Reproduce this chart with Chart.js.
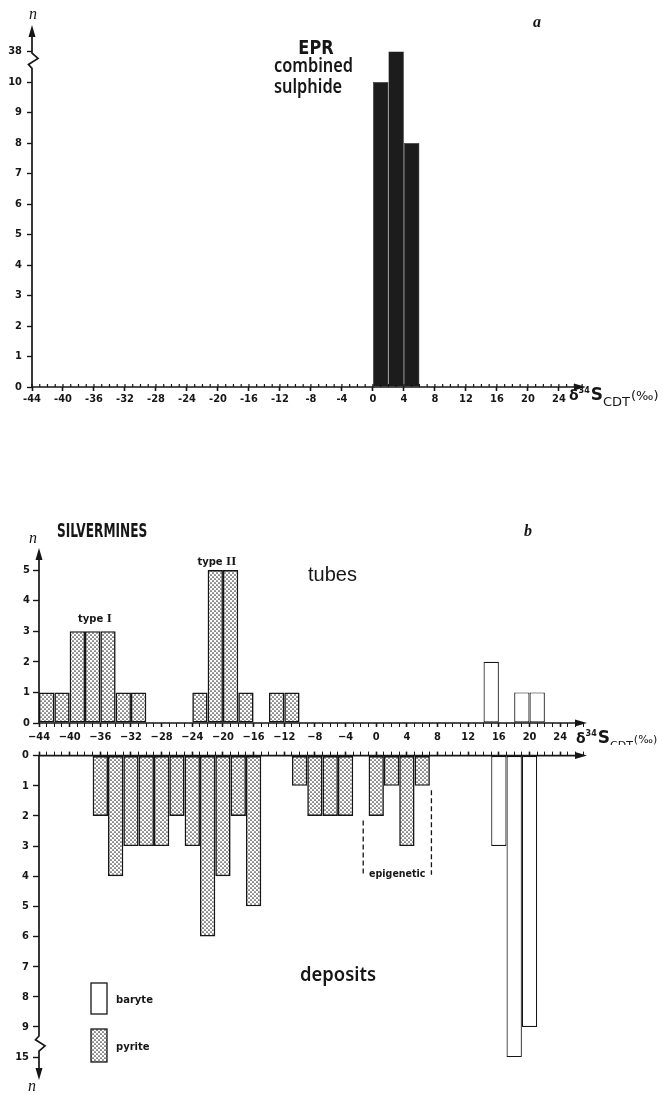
<!DOCTYPE html>
<html lang="en">
<head>
<meta charset="utf-8">
<title>δ34S histograms — EPR and Silvermines</title>
<script src="https://cdn.jsdelivr.net/npm/chart.js@4.4.1/dist/chart.umd.min.js"></script>
<style>
  html, body { margin: 0; padding: 0; background: #fff; }
  body { position: relative; width: 663px; height: 1093px; overflow: hidden; }
  canvas { position: absolute; left: 0; }
  #chart-epr { top: 0; }
  #chart-tubes { top: 520px; }
  #chart-deposits { top: 745px; }
</style>
</head>
<body>
<canvas id="chart-epr" width="663" height="420"></canvas>
<canvas id="chart-tubes" width="663" height="225"></canvas>
<canvas id="chart-deposits" width="663" height="348"></canvas>
<script>
/**
 * Two δ34S histograms: (a) EPR combined sulphide, (b) Silvermines tubes / deposits.
 * Bins are 2 ‰ wide; counts above an axis break are drawn on the break tick.
 */

// ---- data ----------------------------------------------------------------
// a: EPR, bins given by their left edge
const EPR_BIN_START = [0, 2, 4];
const EPR_COUNT     = [10, 38, 8];

// b, tubes: bins given by their left edge
const TUBE_PYRITE_START = [-44, -42, -40, -38, -36, -34, -32, -24, -22, -20, -18, -14, -12];
const TUBE_PYRITE_COUNT = [1, 1, 3, 3, 3, 1, 1, 1, 5, 5, 1, 1, 1];
const TUBE_BARYTE_START = [14, 18, 20];
const TUBE_BARYTE_COUNT = [2, 1, 1];

// b, deposits: bins given by their mid value
const DEP_PYRITE_MID   = [-36, -34, -32, -30, -28, -26, -24, -22, -20, -18, -16, -10, -8, -6, -4, 0, 2, 4, 6];
const DEP_PYRITE_COUNT = [2, 4, 3, 3, 3, 2, 3, 6, 4, 2, 5, 1, 2, 2, 2, 2, 1, 3, 1];
const DEP_BARYTE_MID   = [16, 18, 20];
const DEP_BARYTE_COUNT = [3, 15, 9];

// tick labels
const X_LABELS      = [-44, -40, -36, -32, -28, -24, -20, -16, -12, -8, -4, 0, 4, 8, 12, 16, 20, 24];
const EPR_Y_LABELS  = [0, 1, 2, 3, 4, 5, 6, 7, 8, 9, 10, 38];
const TUBE_Y_LABELS = [0, 1, 2, 3, 4, 5];
const DEP_Y_LABELS  = [0, 1, 2, 3, 4, 5, 6, 7, 8, 9, 15];

// ---- style ---------------------------------------------------------------
const INK = '#161616';
const CLEAR = 'rgba(0,0,0,0)';
const BIN = 2;            // bin width, ‰
const X_MIN = -44;
const X_MAX = 27.5;       // arrow tip
const MINOR_STEP = 1;     // small ticks every 1 ‰
const TICK_FONT = { family: "'DejaVu Sans Condensed', 'Liberation Sans', sans-serif", size: 11, weight: 'bold' };
const SANS = "'DejaVu Sans', sans-serif";
const SERIF = "'Liberation Serif', serif";

/** halftone dot fill used for pyrite */
function _stipple() {
  const tile = document.createElement('canvas');
  tile.width = tile.height = 4;
  const g = tile.getContext('2d');
  g.fillStyle = '#fff';
  g.fillRect(0, 0, 4, 4);
  g.fillStyle = '#333';
  for (const x of [-1, 1, 3, 5]) {
    for (const y of [-1, 1, 3, 5]) {
      if (Math.abs((x + y) / 2) % 2 !== 1) continue;
      g.beginPath();
      g.arc(x, y, 0.85, 0, Math.PI * 2);
      g.fill();
    }
  }
  return g.createPattern(tile, 'repeat');
}
const PYRITE_FILL = _stipple();

/** counts above the last unbroken label sit on the break tick */
function _breakMap(labels) {
  const last = labels[labels.length - 2];
  return v => (v <= last ? v : labels.length - 1);
}

function _hist(starts, counts, shift, mapY, style) {
  return Object.assign({
    type: 'bar',
    data: starts.map((s, i) => ({ x: s + shift, y: mapY(counts[i]) })),
    // ruler min is one minor tick (1 ‰), so 2 gives a full 2 ‰ bin
    barPercentage: BIN / MINOR_STEP,
    categoryPercentage: 1,
    grouped: false,
    borderSkipped: false,
  }, style);
}

const _isMajor = v => X_LABELS.includes(v);

function _xScale({ position, height, padding, minus, showLabels, minorUp }) {
  const vals = [];
  for (let v = X_MIN; v <= Math.floor(X_MAX); v += MINOR_STEP) vals.push(v);
  return {
    type: 'linear', position, min: X_MIN, max: X_MAX, offset: false,
    afterBuildTicks: s => { s.ticks = vals.map(v => ({ value: v })); },
    afterFit: s => { s.height = height; },
    border: { display: false },
    grid: {
      drawOnChartArea: false, offset: false, tickLength: 4,
      tickColor: c => (minorUp && c.tick && !_isMajor(c.tick.value) ? CLEAR : INK),
      tickWidth: c => (c.tick && _isMajor(c.tick.value) ? 1.6 : 1),
    },
    ticks: {
      display: showLabels, autoSkip: false, maxRotation: 0, minRotation: 0,
      padding, color: INK, font: TICK_FONT,
      callback: v => (_isMajor(v) ? String(v).replace('-', minus) : ''),
    },
  };
}

function _yScale({ labels, max, width, reverse, tickLength, padding }) {
  return {
    type: 'linear', min: 0, max, reverse: !!reverse,
    afterBuildTicks: s => { s.ticks = labels.map((_, i) => ({ value: i })); },
    afterFit: s => { s.width = width; },
    border: { display: false },
    grid: { drawOnChartArea: false, tickLength, tickColor: INK, tickWidth: 1.4 },
    ticks: { color: INK, font: TICK_FONT, padding, autoSkip: false, callback: (v, i) => String(labels[i]) },
  };
}

// ---- drawing helpers -----------------------------------------------------
function _text(ctx, str, x, y, font, align = 'left', sx = 1) {
  ctx.save();
  ctx.font = font;
  ctx.fillStyle = INK;
  ctx.textAlign = align;
  ctx.textBaseline = 'middle';
  ctx.translate(x, y);
  ctx.scale(sx, 1);
  ctx.fillText(str, 0, 0);
  ctx.restore();
}

function _arrowHead(ctx, x, y, dir) {
  ctx.beginPath();
  if (dir === 'right') { ctx.moveTo(x, y); ctx.lineTo(x - 12, y - 3.5); ctx.lineTo(x - 12, y + 3.5); }
  else if (dir === 'up') { ctx.moveTo(x, y); ctx.lineTo(x - 3.5, y + 12); ctx.lineTo(x + 3.5, y + 12); }
  else { ctx.moveTo(x, y); ctx.lineTo(x - 3.5, y - 12); ctx.lineTo(x + 3.5, y - 12); }
  ctx.closePath();
  ctx.fill();
}

function _xAxisLine(ctx, y0, left, right) {
  ctx.save();
  ctx.strokeStyle = INK; ctx.fillStyle = INK; ctx.lineWidth = 1.7;
  ctx.beginPath(); ctx.moveTo(left, y0); ctx.lineTo(right - 8, y0); ctx.stroke();
  _arrowHead(ctx, right, y0, 'right');
  ctx.restore();
}

/** short ticks standing on top of the x axis line */
function _ticksUp(ctx, xScale, y0, len) {
  ctx.save();
  ctx.strokeStyle = INK;
  ctx.lineWidth = 1.2;
  ctx.beginPath();
  for (const t of xScale.ticks) {
    const px = xScale.getPixelForValue(t.value);
    ctx.moveTo(px, y0);
    ctx.lineTo(px, y0 - len);
  }
  ctx.stroke();
  ctx.restore();
}

/** vertical axis with optional zig-zag break [from, to] in scale units */
function _yAxisLine(ctx, x0, yScale, tip, dir, brk) {
  ctx.save();
  ctx.strokeStyle = INK; ctx.fillStyle = INK; ctx.lineWidth = 1.7;
  ctx.beginPath();
  ctx.moveTo(x0, yScale.getPixelForValue(0));
  if (brk) {
    const b0 = yScale.getPixelForValue(brk[0]);
    const b1 = yScale.getPixelForValue(brk[1]);
    const h = b1 - b0;
    ctx.lineTo(x0, b0);
    ctx.lineTo(x0 - 3.5, b0 + h * 0.25);
    ctx.lineTo(x0 + 6, b0 + h * 0.65);
    ctx.lineTo(x0, b1);
  }
  ctx.lineTo(x0, tip + (dir === 'up' ? 8 : -8));
  ctx.stroke();
  _arrowHead(ctx, x0, tip, dir);
  ctx.restore();
}

/** δ34S_CDT(‰) axis title; sub is the font size of CDT and (‰) */
function _deltaLabel(ctx, x, y, sub) {
  const parts = [
    ['δ', `bold 14px ${SANS}`, 0, 0],
    ['34', `bold 8px ${SANS}`, -7, 1],
    ['S', `bold 17px ${SANS}`, 0, 0],
    ['CDT', `${sub}px ${SANS}`, 6, 1],
    ['(‰)', `${sub}px ${SANS}`, 0, 0],
  ];
  let cx = x;
  ctx.save();
  ctx.fillStyle = INK;
  ctx.textBaseline = 'alphabetic';
  for (const [str, font, dy, gap] of parts) {
    ctx.font = font;
    ctx.fillText(str, cx, y + dy);
    cx += ctx.measureText(str).width + gap;
  }
  ctx.restore();
}

function _typeLabel(ctx, x, y, numeral) {
  ctx.save();
  ctx.fillStyle = INK;
  ctx.textBaseline = 'alphabetic';
  ctx.font = `bold 10px ${SANS}`;
  const w1 = ctx.measureText('type ').width;
  ctx.font = `bold 13px ${SERIF}`;
  const w2 = ctx.measureText(numeral).width;
  const cx = x - (w1 + w2) / 2;
  ctx.font = `bold 10px ${SANS}`;
  ctx.fillText('type ', cx, y);
  ctx.font = `bold 13px ${SERIF}`;
  ctx.fillText(numeral, cx + w1, y);
  ctx.restore();
}

const BASE_OPTIONS = {
  responsive: false,
  animation: false,
  events: [],
  plugins: { legend: { display: false }, tooltip: { enabled: false } },
};

// ---- a: EPR ----------------------------------------------------------------
const eprY = _breakMap(EPR_Y_LABELS);
new Chart(document.getElementById('chart-epr'), {
  type: 'bar',
  data: {
    datasets: [_hist(EPR_BIN_START, EPR_COUNT, BIN / 2, eprY, {
      backgroundColor: '#1c1c1c', borderColor: '#1c1c1c', borderWidth: 0.5,
    })],
  },
  options: Object.assign({}, BASE_OPTIONS, {
    layout: { padding: { left: 0, top: 25, right: 77, bottom: 15 } },
    scales: {
      x: _xScale({ position: 'bottom', height: 18, padding: 2, minus: '-', showLabels: true, minorUp: true }),
      y: _yScale({ labels: EPR_Y_LABELS, max: 11.87, width: 32, tickLength: 5, padding: 5 }),
    },
  }),
  plugins: [{
    id: 'eprDecor',
    afterDraw(chart) {
      const { ctx, chartArea: ca, scales: { x, y } } = chart;
      const y0 = y.getPixelForValue(0);
      _ticksUp(ctx, x, y0, 3);
      _xAxisLine(ctx, y0, ca.left, ca.right);
      _yAxisLine(ctx, ca.left, y, ca.top, 'up', [10.45, 10.95]);
      _text(ctx, 'n', ca.left + 1, ca.top - 10, `italic 16px ${SERIF}`, 'center');
      _text(ctx, 'a', 537, 23, `italic bold 16px ${SERIF}`, 'center');
      _text(ctx, 'EPR', 316, 49, `bold 19px ${SANS}`, 'center', 0.85);
      _text(ctx, 'combined', 274, 67, `600 19px 'Noto Sans', sans-serif`, 'left', 0.86);
      _text(ctx, 'sulphide', 274, 88, `600 19px 'Noto Sans', sans-serif`, 'left', 0.86);
      _deltaLabel(ctx, 569, 400, 13);
    },
  }],
});

// ---- b: Silvermines tubes -------------------------------------------------
const tubeY = _breakMap(TUBE_Y_LABELS.concat([Infinity]));
const PYRITE_STYLE = { backgroundColor: PYRITE_FILL, borderColor: INK, borderWidth: 1.6 };
const BARYTE_STYLE = { backgroundColor: '#fff', borderColor: INK, borderWidth: 1.2 };

new Chart(document.getElementById('chart-tubes'), {
  type: 'bar',
  data: {
    datasets: [
      _hist(TUBE_PYRITE_START, TUBE_PYRITE_COUNT, BIN / 2, tubeY, PYRITE_STYLE),
      _hist(TUBE_BARYTE_START, TUBE_BARYTE_COUNT, BIN / 2, tubeY, BARYTE_STYLE),
    ],
  },
  options: Object.assign({}, BASE_OPTIONS, {
    layout: { padding: { left: 0, top: 28, right: 76, bottom: 4 } },
    scales: {
      x: _xScale({ position: 'bottom', height: 18, padding: 4, minus: '\u2212', showLabels: true }),
      y: _yScale({ labels: TUBE_Y_LABELS, max: 5.72, width: 39, tickLength: 6, padding: 3 }),
    },
  }),
  plugins: [{
    id: 'tubeDecor',
    afterDraw(chart) {
      const { ctx, chartArea: ca, scales: { x, y } } = chart;
      _xAxisLine(ctx, y.getPixelForValue(0), ca.left, ca.right);
      _yAxisLine(ctx, ca.left, y, ca.top, 'up', null);
      _text(ctx, 'n', ca.left - 6, ca.top - 9, `italic 16px ${SERIF}`, 'center');
      _text(ctx, 'SILVERMINES', 57, 12, `bold 19px ${SANS}`, 'left', 0.64);
      _text(ctx, 'b', 528, 12, `italic bold 16px ${SERIF}`, 'center');
      _text(ctx, 'tubes', 308, 55, `20px 'Liberation Sans', sans-serif`, 'left');
      _typeLabel(ctx, x.getPixelForValue(-36.7), y.getPixelForValue(3.3), 'I');
      _typeLabel(ctx, x.getPixelForValue(-20.8), y.getPixelForValue(5.15), 'II');
      _deltaLabel(ctx, 576, 223, 11);
    },
  }],
});

// ---- b: Silvermines deposits (downward) ------------------------------------
const depY = _breakMap(DEP_Y_LABELS);
new Chart(document.getElementById('chart-deposits'), {
  type: 'bar',
  data: {
    datasets: [
      _hist(DEP_PYRITE_MID, DEP_PYRITE_COUNT, 0, depY, PYRITE_STYLE),
      _hist(DEP_BARYTE_MID, DEP_BARYTE_COUNT, 0, depY, BARYTE_STYLE),
    ],
  },
  options: Object.assign({}, BASE_OPTIONS, {
    layout: { padding: { left: 0, top: 0, right: 76, bottom: 13 } },
    scales: {
      x: _xScale({ position: 'top', height: 8, padding: 0, minus: '\u2212', showLabels: false }),
      y: _yScale({ labels: DEP_Y_LABELS, max: 10.76, width: 39, reverse: true, tickLength: 6, padding: 4 }),
    },
  }),
  plugins: [{
    id: 'depDecor',
    afterDraw(chart) {
      const { ctx, chartArea: ca, scales: { x, y } } = chart;
      _xAxisLine(ctx, y.getPixelForValue(0), ca.left, ca.right);
      _yAxisLine(ctx, ca.left, y, ca.bottom, 'down', [9.3, 9.8]);
      _text(ctx, 'n', ca.left - 7, ca.bottom + 7, `italic 16px ${SERIF}`, 'center');
      _text(ctx, 'deposits', 300, 230, `600 20px 'Noto Sans', sans-serif`, 'left', 0.92);

      // epigenetic bracket
      ctx.save();
      ctx.strokeStyle = INK;
      ctx.lineWidth = 1.3;
      ctx.setLineDash([5, 3]);
      const xl = x.getPixelForValue(-1.7), xr = x.getPixelForValue(7.2);
      const yb = y.getPixelForValue(3.95);
      ctx.beginPath();
      ctx.moveTo(xl, y.getPixelForValue(2.15)); ctx.lineTo(xl, yb);
      ctx.moveTo(xr, y.getPixelForValue(1.15)); ctx.lineTo(xr, yb);
      ctx.stroke();
      ctx.restore();
      _text(ctx, 'epigenetic', (xl + xr) / 2, yb, `bold 10px ${SANS}`, 'center', 0.95);

      // legend
      const lx = 91, lw = 16;
      ctx.save();
      ctx.lineWidth = 1.3;
      ctx.strokeStyle = INK;
      ctx.fillStyle = '#fff';
      ctx.fillRect(lx, 238, lw, 31); ctx.strokeRect(lx, 238, lw, 31);
      ctx.fillStyle = PYRITE_FILL;
      ctx.fillRect(lx, 284, lw, 33); ctx.strokeRect(lx, 284, lw, 33);
      ctx.restore();
      _text(ctx, 'baryte', 116, 255, `bold 10px ${SANS}`, 'left');
      _text(ctx, 'pyrite', 116, 302, `bold 10px ${SANS}`, 'left');
    },
  }],
});
</script>
</body>
</html>
